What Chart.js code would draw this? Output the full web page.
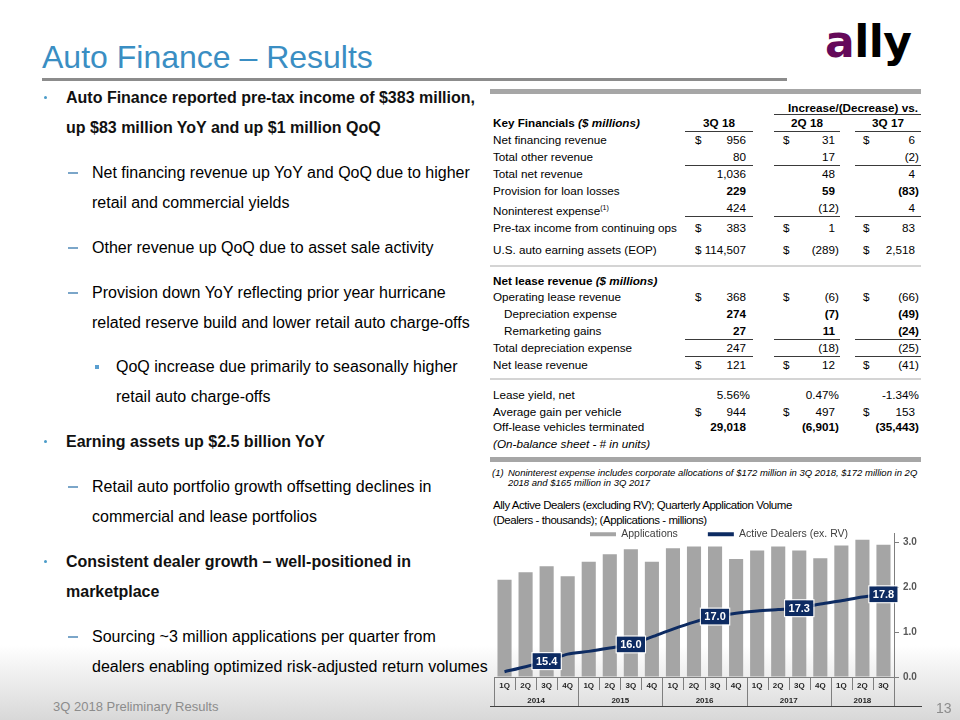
<!DOCTYPE html>
<html>
<head>
<meta charset="utf-8">
<script src="https://cdn.jsdelivr.net/npm/chart.js@4.4.0/dist/chart.umd.min.js"></script>
<style>
html, body { margin:0; padding:0; width:960px; height:720px; overflow:hidden; background:#fff; }
body { position:relative; font-family: Arial, "Liberation Sans", Helvetica, sans-serif; color:#000; }
.fade { position:absolute; left:0; top:645px; width:960px; height:75px; background:linear-gradient(to bottom, rgba(255,255,255,0), #d8d8d8); }
.title { position:absolute; left:42px; top:37px; font-size:32px; line-height:40px; color:#3a8ec3; white-space:nowrap; }
.logo { position:absolute; left:825px; top:20px; font-family:"DejaVu Sans", Arial, sans-serif; font-size:44px; line-height:44px; font-weight:bold; letter-spacing:-0.5px; color:#000; }
.logo span { color:#650a5a; }
.hr { position:absolute; }
.p { position:absolute; font-size:16px; line-height:29.5px; white-space:nowrap; color:#000; }
.l1 { left:66px; font-weight:bold; color:#111; }
.l2 { left:92px; }
.l3 { left:116px; }
.l1::before { content:""; position:absolute; left:-22px; top:13px; width:3px; height:3px; border-radius:2px; background:#4a9cc9; }
.l2::before { content:""; position:absolute; left:-24px; top:14px; width:10px; height:1.5px; background:#7ba6c9; }
.l3::before { content:""; position:absolute; left:-21px; top:13px; width:4px; height:4px; background:#5a9fd0; }
.t { position:absolute; font-size:11.7px; line-height:16px; white-space:nowrap; }
.b { font-weight:bold; }
.fn { position:absolute; font-size:9.5px; line-height:10px; font-style:italic; white-space:nowrap; }
.ct { position:absolute; left:493px; font-size:11.5px; line-height:14px; letter-spacing:-0.45px; white-space:nowrap; color:#000; }
.foot { position:absolute; font-size:13px; line-height:16px; color:#8c8c8c; white-space:nowrap; }
#chartBox { position:absolute; left:494px; top:499px; width:450px; height:213px; }
</style>
</head>
<body>
<div class="fade"></div>

<div class="title">Auto Finance – Results</div>
<div class="logo"><span>a</span>lly</div>
<div class="hr" style="left:42px; top:78px; width:745px; height:3px; background:#8c8c8c;"></div>

<div class="p l1" style="top:83px">Auto Finance reported pre-tax income of $383 million,<br>up $83 million YoY and up $1 million QoQ</div>
<div class="p l2" style="top:158px">Net financing revenue up YoY and QoQ due to higher<br>retail and commercial yields</div>
<div class="p l2" style="top:233px">Other revenue up QoQ due to asset sale activity</div>
<div class="p l2" style="top:278px">Provision down YoY reflecting prior year hurricane<br>related reserve build and lower retail auto charge-offs</div>
<div class="p l3" style="top:352px">QoQ increase due primarily to seasonally higher<br>retail auto charge-offs</div>
<div class="p l1" style="top:427px">Earning assets up $2.5 billion YoY</div>
<div class="p l2" style="top:472px">Retail auto portfolio growth offsetting declines in<br>commercial and lease portfolios</div>
<div class="p l1" style="top:547px">Consistent dealer growth – well-positioned in<br>marketplace</div>
<div class="p l2" style="top:622px">Sourcing ~3 million applications per quarter from<br>dealers enabling optimized risk-adjusted return volumes</div>

<div id="tbl"></div>

<div class="fn" style="left:492px; top:468px;">(1)</div>
<div class="fn" style="left:508px; top:468px;">Noninterest expense includes corporate allocations of $172 million in 3Q 2018, $172 million in 2Q</div>
<div class="fn" style="left:508px; top:478px;">2018 and $165 million in 3Q 2017</div>

<div class="ct" style="top:498px;">Ally Active Dealers (excluding RV); Quarterly Application Volume</div>
<div class="ct" style="top:513px;">(Dealers - thousands); (Applications - millions)</div>

<div id="chartBox"><canvas id="dealerChart"></canvas></div>

<div class="hr" style="left:490px; top:706px; width:432px; height:1px; background:#404040;"></div>
<div class="foot" style="left:53px; top:699px;">3Q 2018 Preliminary Results</div>
<div class="foot" style="left:936px; top:700px; font-size:14px;">13</div>

<script>
// chart data
const quarters = ['1Q','2Q','3Q','4Q','1Q','2Q','3Q','4Q','1Q','2Q','3Q','4Q','1Q','2Q','3Q','4Q','1Q','2Q','3Q'];
const years = ['2014','2015','2016','2017','2018'];
const applications = [2.16, 2.33, 2.46, 2.24, 2.56, 2.73, 2.84, 2.56, 2.86, 2.90, 2.90, 2.62, 2.81, 2.90, 2.81, 2.64, 2.92, 3.05, 2.94];
const activeDealers = [15.02, 15.2, 15.4, 15.65, 15.75, 15.87, 16.0, 16.27, 16.55, 16.8, 17.0, 17.12, 17.2, 17.25, 17.3, 17.45, 17.57, 17.7, 17.8];
const rightTicks = [0, 1, 2, 3];

const navy = '#0d2b62';
const barGrey = '#a5a5a5';
const axisGrey = '#7f7f7f';

/* ---- key financials table (slide text) ---- */
const T = document.getElementById('tbl');
function put(html, x, y, align, cls) {
  const d = document.createElement('div');
  d.className = 't ' + (cls || '');
  d.innerHTML = html;
  d.style.top = (y - 8) + 'px';
  if (align === 'r') d.style.right = (960 - x) + 'px';
  else if (align === 'c') { d.style.left = x + 'px'; d.style.transform = 'translateX(-50%)'; }
  else d.style.left = x + 'px';
  T.appendChild(d);
}
function line(x1, x2, y, color, h) {
  const d = document.createElement('div');
  d.className = 'hr';
  d.style.left = x1 + 'px'; d.style.width = (x2 - x1) + 'px';
  d.style.top = y + 'px'; d.style.height = (h || 1) + 'px';
  d.style.background = color || '#3a3a3a';
  T.appendChild(d);
}
const colDollar = [695, 783, 863];
const colRight = [750, 839, 919];
function row(y, label, vals, opts) {
  opts = opts || {};
  put(label, opts.indent ? 504 : 493, y, 'l', opts.boldLabel ? 'b' : '');
  if (!vals) return;
  vals.forEach((v, i) => {
    if (opts.dollar) put('$', colDollar[i], y, 'l', opts.bold ? 'b' : '');
    const txt = /[)%]$/.test(v) ? v : v + '<span style="visibility:hidden">)</span>';
    put(txt, colRight[i], y, 'r', opts.bold ? 'b' : '');
  });
}
function underCols(y) { line(685, 753, y); line(774, 840, y); line(855, 921, y); }

line(490, 921, 89, '#a6a6a6', 5);
put('Increase/(Decrease) vs.', 918, 108, 'r', 'b');
line(774, 921, 114);
put('Key Financials <i>($ millions)</i>', 493, 123, 'l', 'b');
put('3Q 18', 719, 123, 'c', 'b');
put('2Q 18', 807, 123, 'c', 'b');
put('3Q 17', 888, 123, 'c', 'b');
underCols(131);
row(140, 'Net financing revenue', ['956', '31', '6'], {dollar: true});
row(157, 'Total other revenue', ['80', '17', '(2)']);
underCols(165);
row(174, 'Total net revenue', ['1,036', '48', '4']);
row(191, 'Provision for loan losses', ['229', '59', '(83)'], {bold: true});
row(208, 'Noninterest expense<sup style="font-size:7px">(1)</sup>', ['424', '(12)', '4']);
underCols(216);
row(228, 'Pre-tax income from continuing ops', ['383', '1', '83'], {dollar: true});
row(250, 'U.S. auto earning assets (EOP)', ['114,507', '(289)', '2,518'], {dollar: true});
line(490, 921, 265, '#d4d4d4', 2);
put('Net lease revenue <i>($ millions)</i>', 493, 281, 'l', 'b');
row(297, 'Operating lease revenue', ['368', '(6)', '(66)'], {dollar: true});
row(314, 'Depreciation expense', ['274', '(7)', '(49)'], {indent: true, bold: true});
row(331, 'Remarketing gains', ['27', '11', '(24)'], {indent: true, bold: true});
underCols(339);
row(348, 'Total depreciation expense', ['247', '(18)', '(25)']);
underCols(356);
row(365, 'Net lease revenue', ['121', '12', '(41)'], {dollar: true});
line(490, 921, 378, '#d4d4d4', 2);
row(395, 'Lease yield, net', ['5.56%', '0.47%', '-1.34%']);
row(412, 'Average gain per vehicle', ['944', '497', '153'], {dollar: true});
row(427, 'Off-lease vehicles terminated', ['29,018', '(6,901)', '(35,443)'], {bold: true});
put('<i>(On-balance sheet - # in units)</i>', 493, 444, 'l');
line(490, 921, 457, '#a6a6a6', 5);

/* ---- chart ---- */
Chart.defaults.font.family = "Arial, 'Liberation Sans', sans-serif";

// shrink the legend box so the plot starts right under the legend text,
// then grow it back after layout so its text is not clipped
const legendHeight = {
  id: 'legendHeight',
  beforeInit(chart) {
    const fit = chart.legend.fit;
    chart.legend.fit = function() {
      fit.bind(chart.legend)();
      this.height = 34;
    };
  },
  afterLayout(chart) {
    chart.legend.height += 14;
    chart.legend.bottom += 14;
  }
};

// quarter / year boxes under the plot
const axisTable = {
  id: 'axisTable',
  afterDraw(chart) {
    const {ctx, chartArea: a, scales: {x}} = chart;
    const n = quarters.length;
    const w = (a.right - a.left) / n;
    ctx.save();
    ctx.strokeStyle = axisGrey;
    ctx.lineWidth = 1;
    for (let k = 0; k <= n; k++) {
      const bx = Math.round(a.left + k * w) + 0.5;
      const yearEdge = k === 0 || k === n || quarters[k] === '1Q';
      ctx.beginPath();
      ctx.moveTo(bx, a.bottom);
      ctx.lineTo(bx, a.bottom + (yearEdge ? 29 : 13));
      ctx.stroke();
    }
    ctx.fillStyle = '#262626';
    ctx.font = "bold 8px Arial, 'Liberation Sans', sans-serif";
    ctx.textAlign = 'center';
    ctx.textBaseline = 'middle';
    let start = 0, yi = 0;
    for (let k = 1; k <= n; k++) {
      if (k === n || quarters[k] === '1Q') {
        const cx = (x.getPixelForValue(start) + x.getPixelForValue(k - 1)) / 2;
        ctx.fillText(years[yi++], cx, a.bottom + 23.5);
        start = k;
      }
    }
    ctx.restore();
  }
};

// navy value boxes on the dealer line, 3Q of each year
const dealerLabels = {
  id: 'dealerLabels',
  afterDatasetsDraw(chart) {
    const meta = chart.getDatasetMeta(1);
    const ctx = chart.ctx;
    ctx.save();
    ctx.font = "bold 11px Arial, 'Liberation Sans', sans-serif";
    ctx.textAlign = 'center';
    ctx.textBaseline = 'middle';
    meta.data.forEach((pt, i) => {
      if (quarters[i] !== '3Q') return;
      const txt = activeDealers[i].toFixed(1);
      const tw = ctx.measureText(txt).width + 7;
      ctx.fillStyle = navy;
      ctx.fillRect(pt.x - tw / 2, pt.y - 8, tw, 16);
      ctx.strokeStyle = '#ffffff';
      ctx.lineWidth = 1;
      ctx.strokeRect(pt.x - tw / 2 - 0.5, pt.y - 8.5, tw + 1, 17);
      ctx.fillStyle = '#ffffff';
      ctx.fillText(txt, pt.x, pt.y + 0.5);
    });
    ctx.restore();
  }
};

new Chart(document.getElementById('dealerChart'), {
  type: 'bar',
  data: {
    labels: quarters,
    datasets: [{
      type: 'bar',
      label: 'Applications',
      data: applications,
      backgroundColor: barGrey,
      yAxisID: 'y',
      order: 1,
      barPercentage: 0.67,
      categoryPercentage: 1
    }, {
      type: 'line',
      label: 'Active Dealers (ex. RV)',
      data: activeDealers,
      borderColor: navy,
      backgroundColor: navy,
      borderWidth: 3,
      pointRadius: 0,
      tension: 0.25,
      yAxisID: 'y1',
      order: 0
    }]
  },
  options: {
    responsive: true,
    maintainAspectRatio: false,
    animation: false,
    layout: { padding: 0 },
    plugins: {
      tooltip: { enabled: false },
      legend: {
        display: true,
        position: 'top',
        labels: {
          boxWidth: 26,
          boxHeight: 4,
          padding: 30,
          color: '#404040',
          font: { size: 10.5 },
          sort: (a, b) => a.datasetIndex - b.datasetIndex,
          generateLabels(chart) {
            const items = Chart.defaults.plugins.legend.labels.generateLabels(chart);
            items.forEach(it => { it.lineWidth = 0; });
            return items;
          }
        }
      }
    },
    scales: {
      x: {
        grid: { display: false, drawTicks: false },
        border: { display: true, color: axisGrey },
        ticks: { font: { size: 8, weight: 'bold' }, color: '#262626', padding: 4, maxRotation: 0, autoSkip: false },
        afterFit(s) { s.height = 35; }
      },
      y: {
        position: 'right',
        min: 0,
        max: 3.2,
        afterBuildTicks(s) { s.ticks = rightTicks.map(v => ({ value: v })); },
        ticks: { callback: v => v.toFixed(1), font: { size: 10, weight: 'bold' }, color: '#595959', padding: 4 },
        grid: { drawOnChartArea: false, tickLength: 5, color: axisGrey },
        border: { color: axisGrey },
        afterFit(s) { s.width = 50; }
      },
      y1: {
        display: false,
        position: 'left',
        min: 14.83,
        max: 20
      }
    }
  },
  plugins: [legendHeight, axisTable, dealerLabels]
});
</script>
</body>
</html>
